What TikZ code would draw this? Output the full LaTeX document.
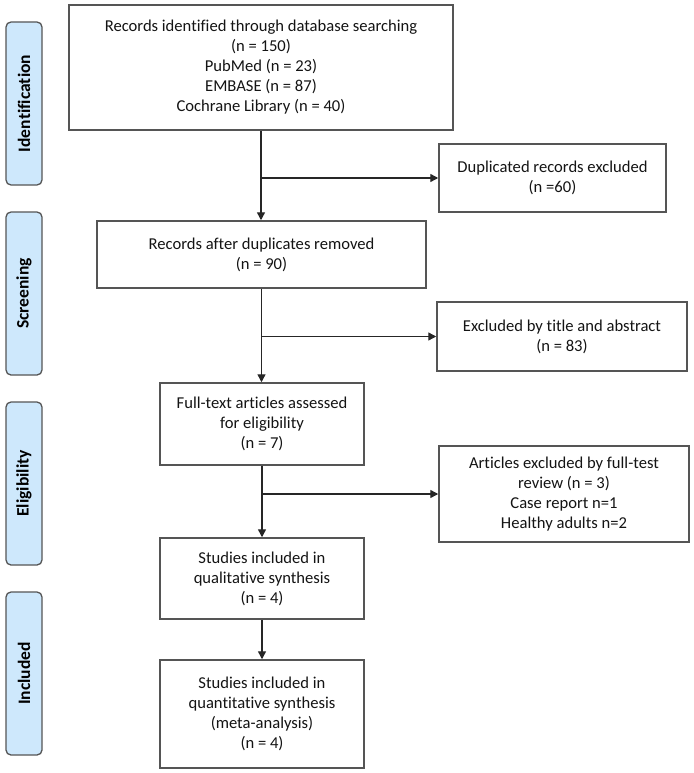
\documentclass[tikz,border=0pt]{standalone}
\usepackage{fontspec}
\setmainfont{Carlito}[Ligatures=NoCommon]
\usetikzlibrary{arrows.meta}
\definecolor{sidefill}{RGB}{206,232,252}
\definecolor{boxline}{RGB}{85,85,85}
\definecolor{txt}{RGB}{20,20,20}
\tikzset{
  flowbox/.style={draw=boxline, line width=1.5pt, fill=white, align=center, text=txt,
    font=\fontsize{16.6}{20}\selectfont, inner sep=0pt},
  sidebox/.style={draw=boxline, line width=1.3pt, fill=sidefill, rounded corners=5pt,
    minimum width=163pt, minimum height=36pt, rotate=90, text=black,
    font=\fontsize{17.5}{20}\selectfont\bfseries, inner sep=0pt},
  arr/.style={draw=black!85, line width=1.4pt, -{Triangle[length=8pt,width=8pt]}},
  ln/.style={draw=black!85, line width=1.4pt}
}
\begin{document}
\begin{tikzpicture}[x=1pt,y=-1pt]
\useasboundingbox (0,0) rectangle (693,773);
% side labels
\node[sidebox] (sid) at (24,103.5) {Identification};
\node[sidebox] (ssc) at (24,293.5) {Screening};
\node[sidebox] (sel) at (24,483.5) {Eligibility};
\node[sidebox] (sin) at (24,673.5) {Included};
% main boxes
\node[flowbox, minimum width=384pt, minimum height=125pt] (b1) at (261,67.5)
  {Records identified through database searching\\(n = 150)\\PubMed (n = 23)\\EMBASE (n = 87)\\Cochrane Library (n = 40)};
\node[flowbox, minimum width=227pt, minimum height=68pt] (dup) at (552.5,178)
  {Duplicated records excluded\\(n =60)};
\node[flowbox, minimum width=329pt, minimum height=67pt] (b2) at (261.5,254.5)
  {Records after duplicates removed\\(n = 90)};
\node[flowbox, minimum width=250pt, minimum height=69pt] (ex2) at (562,336.5)
  {Excluded by title and abstract\\(n = 83)};
\node[flowbox, minimum width=204pt, minimum height=82pt] (b3) at (262,424)
  {Full-text articles assessed\\for eligibility\\(n = 7)};
\node[flowbox, minimum width=250pt, minimum height=96pt] (ex3) at (564,494)
  {Articles excluded by full-test\\review (n = 3)\\Case report n=1\\Healthy adults n=2};
\node[flowbox, minimum width=204pt, minimum height=81pt] (b4) at (262,578.5)
  {Studies included in\\qualitative synthesis\\(n = 4)};
\node[flowbox, minimum width=204pt, minimum height=108pt] (b5) at (262,714)
  {Studies included in\\quantitative synthesis\\(meta-analysis)\\(n = 4)};
% connectors
\draw[arr] (b1.south) -- (b1.south |- b2.north);
\draw[arr] (b1.south |- dup.west) -- (dup.west);
\draw[arr] (b2.south) -- (b2.south |- b3.north);
\draw[arr] (b2.south |- ex2.west) -- (ex2.west);
\draw[arr] (b3.south) -- (b4.north);
\draw[arr] (b3.south |- ex3.west) -- (ex3.west);
\draw[arr] (b4.south) -- (b5.north);
\end{tikzpicture}
\end{document}
